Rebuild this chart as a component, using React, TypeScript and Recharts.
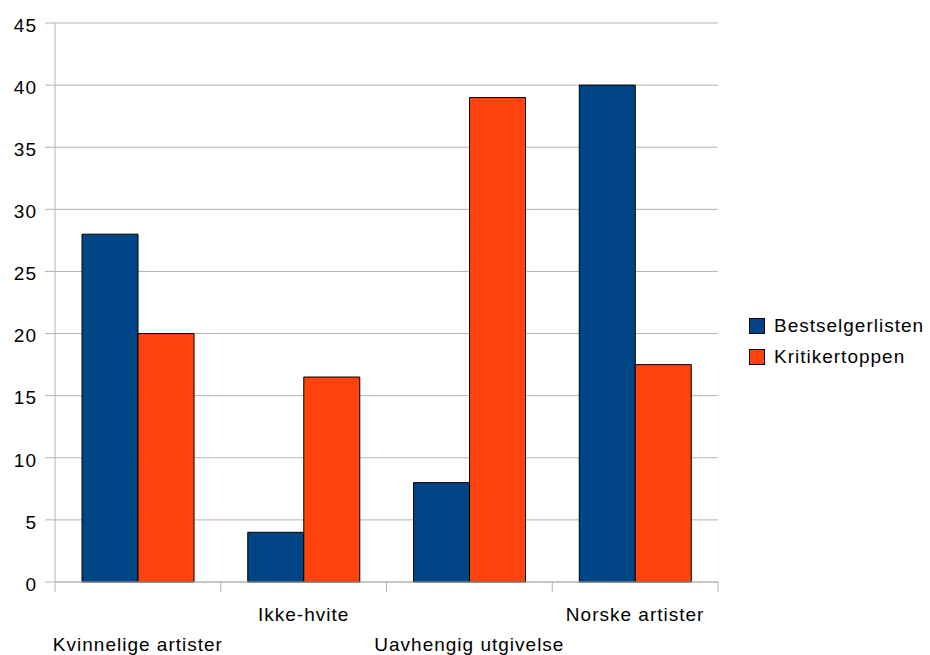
import { BarChart, Bar, XAxis, YAxis, CartesianGrid } from "recharts";

const categories = [
  "Kvinnelige artister",
  "Ikke-hvite",
  "Uavhengig utgivelse",
  "Norske artister",
];
const bestselgerlisten = [28, 4, 8, 40];
const kritikertoppen = [20, 16.5, 39, 17.5];
const yTicks = [0, 5, 10, 15, 20, 25, 30, 35, 40, 45];

const BLUE = "#004586";
const ORANGE = "#ff420e";
const GRID = "#b3b3b3";
const FONT = "'Liberation Sans', Arial, sans-serif";
const FONT_SIZE = 19;
const SPACING = 1;

const data = categories.map((name, i) => ({
  name,
  Bestselgerlisten: bestselgerlisten[i],
  Kritikertoppen: kritikertoppen[i],
}));

const legendItems = [
  { label: "Bestselgerlisten", color: BLUE },
  { label: "Kritikertoppen", color: ORANGE },
];

// Labels alternate between two rows; tick marks sit on the category edges
function CategoryTick(props: any) {
  const { x, y, payload, index } = props;
  const half = payload?.offset ?? 83;
  const axisY = y - 12;
  const isLast = index === categories.length - 1;
  return (
    <g>
      <line x1={x - half} x2={x - half} y1={axisY} y2={axisY + 10} stroke={GRID} />
      {isLast && (
        <line x1={x + half} x2={x + half} y1={axisY} y2={axisY + 10} stroke={GRID} />
      )}
      <text
        x={x}
        y={y + (index % 2 === 0 ? 44 : 14)}
        dy="0.71em"
        textAnchor="middle"
        fontFamily={FONT}
        fontSize={FONT_SIZE}
        letterSpacing={SPACING}
        fill="#000"
      >
        {payload.value}
      </text>
    </g>
  );
}

function ValueTick(props: any) {
  const { x, y, payload } = props;
  return (
    <text
      x={x}
      y={y + 2}
      dy="0.355em"
      textAnchor="end"
      fontFamily={FONT}
      fontSize={FONT_SIZE}
      letterSpacing={SPACING}
      fill="#000"
    >
      {payload.value}
    </text>
  );
}

export default function App() {
  return (
    <div
      style={{
        position: "absolute",
        left: 0,
        top: 0,
        width: 930,
        height: 655,
        background: "#fff",
      }}
    >
      <BarChart
        width={930}
        height={655}
        data={data}
        margin={{ top: 23, right: 212, bottom: 0, left: 0 }}
        barCategoryGap="16.3%"
        barGap={0}
      >
        <CartesianGrid vertical={false} stroke={GRID} />
        <XAxis
          dataKey="name"
          tick={<CategoryTick />}
          tickLine={false}
          tickSize={10}
          tickMargin={2}
          axisLine={{ stroke: GRID }}
          height={73}
          interval={0}
        />
        <YAxis
          domain={[0, 45]}
          ticks={yTicks}
          width={55}
          tickSize={10}
          tickMargin={8}
          tickLine={{ stroke: GRID }}
          axisLine={{ stroke: GRID }}
          tick={<ValueTick />}
        />
        <YAxis
          yAxisId="frame"
          orientation="right"
          width={0}
          tick={false}
          tickLine={false}
          axisLine={{ stroke: "#d9d9d9" }}
        />
        <Bar
          dataKey="Bestselgerlisten"
          fill={BLUE}
          stroke="#000"
          strokeWidth={1}
          isAnimationActive={false}
        />
        <Bar
          dataKey="Kritikertoppen"
          fill={ORANGE}
          stroke="#000"
          strokeWidth={1}
          isAnimationActive={false}
        />
      </BarChart>
      <div
        style={{
          position: "absolute",
          left: 749,
          top: 310,
          fontFamily: FONT,
          fontSize: FONT_SIZE,
          letterSpacing: SPACING,
          color: "#000",
        }}
      >
        {legendItems.map((item) => (
          <div
            key={item.label}
            style={{ display: "flex", alignItems: "center", height: 31 }}
          >
            <span
              style={{
                width: 14,
                height: 14,
                background: item.color,
                border: "1px solid #000",
                marginRight: 9,
              }}
            />
            {item.label}
          </div>
        ))}
      </div>
    </div>
  );
}
